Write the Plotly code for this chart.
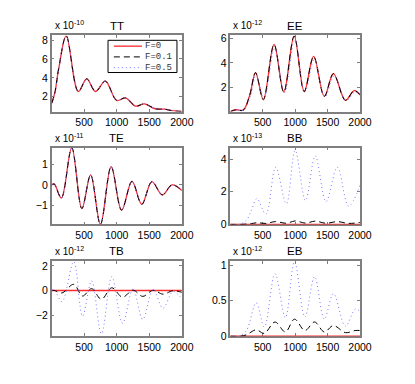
import plotly.graph_objects as go

# ——— Data (multipole ell vs power) ———
# TT, x 1e-10 — all three F values lie on top of each other
TT_ELL = [2, 50, 110, 225, 410, 540, 675, 825, 1000, 1135, 1290, 1425, 1590, 1730, 1850, 2000]
TT_VAL = [1.3, 2.4, 5.0, 8.45, 2.55, 3.9, 2.55, 3.65, 1.6, 1.87, 1.0, 1.24, 0.72, 0.68, 0.52, 0.43]

# EE, x 1e-12
EE_ELL = [2, 90, 200, 300, 390, 510, 675, 825, 985, 1140, 1285, 1450, 1590, 1775, 1910, 2000]
EE_F0 = [0.0, 0.15, 0.12, 1.35, 3.2, 0.98, 5.52, 1.6, 6.2, 1.65, 4.53, 1.25, 3.12, 0.93, 1.73, 1.38]
EE_ELL_F05 = [2, 90, 200, 310, 400, 520, 685, 835, 995, 1150, 1295, 1460, 1600, 1785, 1920, 2000]
EE_F05 = [0.0, 0.14, 0.11, 1.25, 3.0, 1.0, 5.2, 1.55, 5.9, 1.6, 4.3, 1.2, 2.95, 0.9, 1.6, 1.35]

# TE, x 1e-11
TE_ELL = [2, 40, 150, 310, 465, 600, 750, 915, 1075, 1235, 1385, 1540, 1700, 1850, 2000]
TE_VAL = [0.0, 0.05, -0.65, 1.84, -1.17, 0.5, -1.95, 0.91, -1.25, 0.18, -0.96, 0.16, -0.49, 0.0, -0.27]

# BB, x 1e-13
BB_ELL = [2, 150, 250, 330, 410, 550, 700, 865, 1000, 1160, 1310, 1475, 1650, 1825, 2000]
BB_F0 = [0.0] * len(BB_ELL)
BB_F01 = [0.0, 0.0, 0.02, 0.05, 0.1, 0.06, 0.17, 0.07, 0.21, 0.08, 0.2, 0.07, 0.17, 0.06, 0.12]
BB_F05 = [0.0, 0.02, 0.25, 0.9, 1.58, 0.62, 3.5, 1.26, 4.55, 1.46, 4.2, 1.4, 3.5, 1.12, 2.4]

# TB, x 1e-12
TB_ELL = [2, 40, 160, 340, 475, 615, 765, 925, 1090, 1250, 1400, 1560, 1710, 1865, 2000]
TB_F0 = [0.0] * len(TB_ELL)
TB_F01 = [0.0, 0.01, -0.2, 0.5, -0.45, 0.15, -0.72, 0.22, -0.55, 0.03, -0.48, 0.02, -0.3, -0.02, -0.15]
TB_F05 = [0.0, 0.05, -0.91, 2.35, -2.09, 0.78, -3.53, 1.12, -2.67, 0.13, -2.35, 0.08, -1.44, -0.08, -0.7]

# EB, x 1e-12
EB_ELL = [2, 150, 250, 400, 525, 690, 850, 990, 1150, 1300, 1450, 1590, 1775, 1925, 2000]
EB_F0 = [0.0] * len(EB_ELL)
EB_F01 = [0.0, 0.0, 0.02, 0.09, 0.04, 0.2, 0.06, 0.24, 0.08, 0.2, 0.06, 0.15, 0.05, 0.08, 0.08]
EB_F05 = [0.0, 0.01, 0.08, 0.47, 0.13, 0.88, 0.26, 1.05, 0.27, 0.84, 0.24, 0.6, 0.14, 0.38, 0.35]

X_TICKS = [500, 1000, 1500, 2000]
LEGEND_NAMES = ["F=0", "F=0.1", "F=0.5"]

# ——— Layout in pixels ———
# page body has an 8px margin, so everything is placed 8px up/left
W, H = 415, 384
OFF = 8
COL_X = [(53 - OFF, 187 - OFF), (237 - OFF, 370.5 - OFF)]
ROW_Y = [(33 - OFF, 111 - OFF), (148 - OFF, 226.5 - OFF), (264 - OFF, 341 - OFF)]

FONT = "Liberation Sans"
MONO = "Liberation Mono"
FRAME = "#7f7f7f"
STYLES = [
    dict(color="#ff2a2a", width=1.3),
    dict(color="black", width=1, dash="6px,4px"),
    dict(color="rgb(120,120,255)", width=1, dash="1px,3px"),
]

# title, exponent, y range, y ticks, [(ell, F=0), (ell, F=0.1), (ell, F=0.5)]
panels = [
    ("TT", "-10", [0.42, 8.5], [2, 4, 6, 8],
     [(TT_ELL, TT_VAL), (TT_ELL, TT_VAL), (TT_ELL, TT_VAL)]),
    ("EE", "-12", [0, 6.26], [2, 4, 6],
     [(EE_ELL, EE_F0), (EE_ELL, EE_F0), (EE_ELL_F05, EE_F05)]),
    ("TE", "-11", [-1.95, 1.84], [-1, 0, 1],
     [(TE_ELL, TE_VAL), (TE_ELL, TE_VAL), (TE_ELL, TE_VAL)]),
    ("BB", "-13", [0, 4.7], [0, 2, 4],
     [(BB_ELL, BB_F0), (BB_ELL, BB_F01), (BB_ELL, BB_F05)]),
    ("TB", "-12", [-3.72, 2.4], [-2, 0, 2],
     [(TB_ELL, TB_F0), (TB_ELL, TB_F01), (TB_ELL, TB_F05)]),
    ("EB", "-12", [0, 1.06], [0, 0.5, 1],
     [(EB_ELL, EB_F0), (EB_ELL, EB_F01), (EB_ELL, EB_F05)]),
]

fig = go.Figure()
annotations = []
axis_common = dict(
    ticks="inside", ticklen=3, tickcolor=FRAME, tickwidth=1,
    showline=True, linecolor=FRAME, linewidth=1.5, mirror="ticks",
    showgrid=False, zeroline=False, layer="below traces",
    tickfont=dict(family=FONT, size=10.5, color="black"),
)

for i, (title, expo, yrange, yticks, series) in enumerate(panels):
    n = i + 1
    row, col = divmod(i, 2)
    x0, x1 = COL_X[col]
    top, bottom = ROW_Y[row]
    sfx = "" if n == 1 else str(n)

    for (ell, val), style in zip(series, STYLES):
        fig.add_trace(go.Scatter(
            x=ell, y=val, mode="lines",
            line=dict(shape="spline", smoothing=1.0, **style),
            xaxis="x" + sfx, yaxis="y" + sfx, showlegend=False,
            hoverinfo="skip",
        ))

    fig.layout["xaxis" + sfx] = dict(
        domain=[x0 / W, x1 / W], range=[2, 2000], tickvals=X_TICKS,
        anchor="y" + sfx, **axis_common)
    fig.layout["yaxis" + sfx] = dict(
        domain=[1 - bottom / H, 1 - top / H], range=yrange, tickvals=yticks,
        anchor="x" + sfx, **axis_common)

    # panel title and the MATLAB style exponent
    annotations.append(dict(
        text=title, x=(x0 + x1) / 2 / W, y=1 - (top - 10) / H,
        xref="paper", yref="paper", showarrow=False,
        xanchor="center", yanchor="middle",
        font=dict(family=FONT, size=11.5, color="black")))
    annotations.append(dict(
        text="x 10<sup>" + expo + "</sup>", x=(x0 + 1) / W, y=1 - (top - 2) / H,
        xref="paper", yref="paper", showarrow=False,
        xanchor="left", yanchor="bottom",
        font=dict(family=FONT, size=10, color="black")))

# ——— Legend drawn by hand inside the TT panel ———
LX0, LX1, LY0, LY1 = 111 - OFF, 182 - OFF, 38 - OFF, 71 - OFF
shapes = [dict(type="rect", xref="paper", yref="paper",
               x0=LX0 / W, x1=LX1 / W, y0=1 - LY1 / H, y1=1 - LY0 / H,
               line=dict(color="black", width=1), fillcolor="white", layer="above")]
for k, (name, style) in enumerate(zip(LEGEND_NAMES, STYLES)):
    yy = 1 - (LY0 + 6 + 11 * k) / H
    shapes.append(dict(type="line", xref="paper", yref="paper",
                       x0=(LX0 + 6) / W, x1=(LX0 + 35) / W, y0=yy, y1=yy,
                       line=style, layer="above"))
    annotations.append(dict(
        text=name, x=(LX0 + 37) / W, y=yy, xref="paper", yref="paper",
        showarrow=False, xanchor="left", yanchor="middle", borderpad=0,
        font=dict(family=MONO, size=9, color="#333")))

fig.update_layout(
    width=W, height=H,
    margin=dict(l=0, r=0, t=0, b=0),
    paper_bgcolor="white", plot_bgcolor="white",
    annotations=annotations, shapes=shapes,
    showlegend=False,
)

fig.write_html("out.html")
